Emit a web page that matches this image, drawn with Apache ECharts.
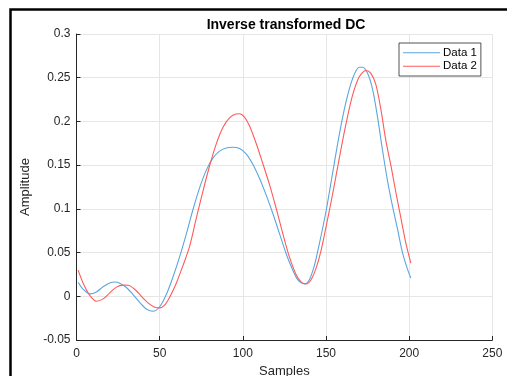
<!DOCTYPE html>
<html>
<head>
<meta charset="utf-8">
<script src="https://cdn.jsdelivr.net/npm/echarts@6/dist/echarts.min.js"></script>
<style>html,body{margin:0;padding:0;background:#fff;overflow:hidden;}#c{width:507px;height:376px;}</style>
</head>
<body>
<div id="c"></div>
<script>
const samples1 = [1,4,8,12,16,20,23,26,30,34,38,42,46,50,54,58,62,66,70,74,78,82,86,90,94,98,102,106,110,114,118,122,126,130,133,137,140,143,146,150,154,158,162,166,170,172,175,178,181,184,187,190,193,196,199,201];
const data1 = [0.016,0.008,0.0028,0.005,0.011,0.0152,0.0163,0.015,0.010,0.002,-0.007,-0.0145,-0.0172,-0.012,0.002,0.022,0.045,0.071,0.099,0.124,0.144,0.158,0.166,0.1697,0.1705,0.169,0.163,0.151,0.135,0.116,0.095,0.072,0.049,0.030,0.019,0.0142,0.019,0.035,0.060,0.097,0.141,0.185,0.222,0.249,0.262,0.262,0.255,0.237,0.205,0.167,0.132,0.103,0.077,0.050,0.031,0.021];
const samples2 = [1,4,8,12,16,20,24,28,31,35,39,43,47,50,53,56,60,64,68,72,76,80,84,88,92,96,98,101,104,108,112,116,120,124,128,132,135,138,141,144,147,150,154,158,162,166,170,174,177,180,183,186,189,192,195,198,201];
const data2 = [0.030,0.015,0.001,-0.0057,-0.003,0.004,0.0105,0.0128,0.0126,0.008,0.000,-0.0075,-0.0125,-0.0133,-0.010,-0.001,0.015,0.035,0.057,0.089,0.120,0.149,0.174,0.193,0.204,0.2085,0.2087,0.205,0.195,0.175,0.152,0.128,0.101,0.072,0.045,0.025,0.0165,0.0142,0.019,0.032,0.052,0.079,0.117,0.158,0.197,0.230,0.251,0.2583,0.255,0.242,0.214,0.178,0.150,0.119,0.090,0.061,0.038];
const seriesNames = ['Data 1','Data 2'];
const xTicks = [0,50,100,150,200,250];
const yTicks = [-0.05,0,0.05,0.1,0.15,0.2,0.25,0.3];

const chart = echarts.init(document.getElementById('c'), null, {renderer:'canvas', width:507, height:376});
const font = 'Liberation Sans, Arial, Helvetica, sans-serif';
const axisCol = '#262626';
const pairs = (xs, ys) => xs.map((x,i)=>[x, ys[i]]);
chart.setOption({
  animation:false,
  backgroundColor:'#fff',
  title:{text:'Inverse transformed DC', left:281, top:13, textAlign:'center',
    textStyle:{fontFamily:font, fontSize:14, fontWeight:'bold', color:'#000'}},
  legend:{orient:'vertical', left:399, top:43, itemWidth:37, itemHeight:1.2, itemGap:0,
    icon:'rect',
    padding:[3,4,3,4], borderColor:axisCol, borderWidth:0.8, backgroundColor:'#fff',
    textStyle:{fontFamily:font, fontSize:11.5, color:'#000', lineHeight:13.5, padding:[0,0,0,-2]},
    data:seriesNames},
  grid:{left:76.5, width:415.8, top:34, height:306, containLabel:false, outerBoundsMode:'none'},
  xAxis:{type:'value', min:xTicks[0], max:xTicks[xTicks.length-1], interval:50,
    name:'Samples', nameLocation:'middle', nameGap:24,
    nameTextStyle:{fontFamily:font, fontSize:13, color:axisCol},
    axisLine:{show:true, onZero:false, lineStyle:{color:axisCol, width:1}},
    axisTick:{show:true, inside:true, length:4, lineStyle:{color:axisCol}},
    axisLabel:{fontFamily:font, fontSize:12, color:axisCol, margin:8},
    splitLine:{show:true, lineStyle:{color:'#e6e6e6', width:1}}},
  yAxis:{type:'value', min:yTicks[0], max:yTicks[yTicks.length-1], interval:0.05,
    name:'Amplitude', nameLocation:'middle', nameGap:30, nameRotate:90,
    nameTextStyle:{fontFamily:font, fontSize:13, color:axisCol},
    axisLine:{show:true, onZero:false, lineStyle:{color:axisCol, width:1}},
    axisTick:{show:true, inside:true, length:4, lineStyle:{color:axisCol}},
    axisLabel:{fontFamily:font, fontSize:12, color:axisCol, margin:6,
      formatter:(v)=>String(+v.toFixed(2))},
    splitLine:{show:true, lineStyle:{color:'#e6e6e6', width:1}}},
  series:[
    {name:seriesNames[0], type:'line', data:pairs(samples1, data1), smooth:0.3, symbol:'none',
     lineStyle:{color:'#5AA6E0', width:1.1}, itemStyle:{color:'#5AA6E0'}},
    {name:seriesNames[1], type:'line', data:pairs(samples2, data2), smooth:0.3, symbol:'none',
     lineStyle:{color:'#FF5A5A', width:1.1}, itemStyle:{color:'#FF5A5A'}}
  ],
  graphic:[{type:'rect', shape:{x:10.5, y:9.5, width:520, height:420},
    style:{fill:null, stroke:'#000', lineWidth:2.5}, silent:true, z:100}]
});
</script>
</body>
</html>
